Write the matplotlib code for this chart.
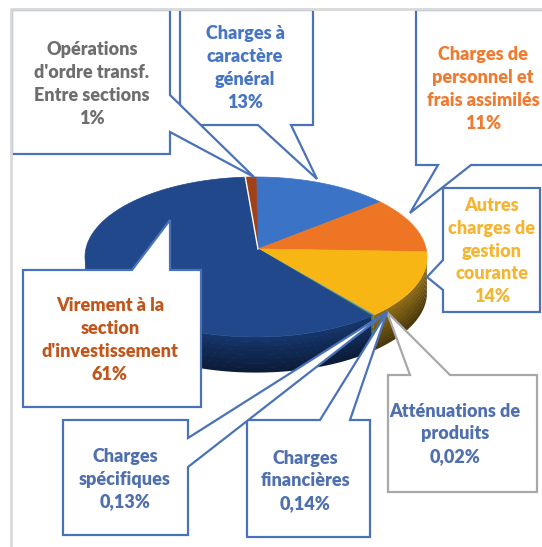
import numpy as np
import matplotlib.pyplot as plt
from matplotlib.patches import Polygon
from matplotlib.colors import to_rgb

# slice data, clockwise from 12 o'clock
labels = ["Charges à\ncaractère\ngénéral",
          "Charges de\npersonnel et\nfrais assimilés",
          "Autres\ncharges de\ngestion\ncourante",
          "Atténuations de\nproduits",
          "Charges\nfinancières",
          "Charges\nspécifiques",
          "Virement à la\nsection\nd'investissement",
          "Opérations\nd'ordre transf.\nEntre sections"]
pct_labels = ["13%", "11%", "14%", "0,02%", "0,14%", "0,13%", "61%", "1%"]
values = [13, 11, 14, 0.02, 0.14, 0.13, 61, 1]

top_colors = ['#3b74c6', '#ee7524', '#f8b614', '#a5a5a5', '#5b9bd5', '#3f7a2c', '#21488b', '#a0411a']
side_colors = ['#2a558f', '#a8521a', '#8c6a16', '#777777', '#3e6e9a', '#2f5e20', '#153469', '#6e2d10']
text_colors = ['#4675c4', '#ee7b30', '#f4b531', '#4f6fae', '#4f6fae', '#4f6fae', '#c0561c', '#6e6e6e']
edge_colors = ['#4a72b8', '#4a72b8', '#4a72b8', '#a8a8a8', '#4a72b8', '#4a72b8', '#4a72b8', '#4a72b8']

# callout layout (pixel space): box, pointer side, pointer base, tip, text centre
boxes = [(180, 10, 313, 125), (416, 10, 548, 165), (443, 188, 540, 312), (388, 375, 537, 492),
         (247, 420, 370, 537), (63, 420, 188, 535), (23, 270, 201, 407), (12, 10, 170, 154)]
sides = ['bottom', 'bottom', 'left', 'top', 'top', 'right', 'top', 'right']
bases = [(258, 291), (438, 471), (260, 290), (410, 450), (320, 350), (438, 467), (132, 170), (95, 132)]
tips = [(317, 179), (410, 213), (427, 277), (387, 312), (387, 312), (387, 312), (170, 220), (254, 177)]
text_pos = [(245, 68), (483, 89), (492, 251), (455, 434), (305, 481), (125, 479), (110, 340), (92, 84)]

plt.rcParams['font.family'] = ['Lato', 'DejaVu Sans']

fig = plt.figure(figsize=(5.42, 5.47), dpi=100)
ax = fig.add_axes([0, 0, 1, 1])
ax.set_xlim(0, 542)
ax.set_ylim(547, 0)
ax.axis('off')

# pie geometry
cx, cy, ra, rb, depth = 256, 257, 171, 80, 35
apex = (258, 249)


def rim(t, dy=0):
    t = np.radians(t)
    return np.column_stack([cx + ra * np.sin(t), cy - rb * np.cos(t) + dy])


cum = np.concatenate([[0], np.cumsum(values)]) / sum(values) * 360

# side walls (only front half visible), darkened towards the bottom
nb = 8
for i in range(len(values)):
    t0, t1 = max(cum[i], 90), min(cum[i + 1], 270)
    if t1 <= t0:
        continue
    t = np.linspace(t0, t1, 80)
    base = np.array(to_rgb(side_colors[i]))
    for k in range(nb):
        d0, d1 = depth * k / nb, depth * (k + 1) / nb + 0.6
        c = base * (1 - 0.45 * k / (nb - 1))
        pts = np.vstack([rim(t, d0), rim(t[::-1], d1)])
        ax.add_patch(Polygon(pts, closed=True, fc=c, ec='none', zorder=1))

# top faces
for i in range(len(values)):
    t = np.linspace(cum[i], cum[i + 1], 120)
    pts = np.vstack([[apex], rim(t)])
    ax.add_patch(Polygon(pts, closed=True, fc=top_colors[i], ec=top_colors[i], lw=0.5, zorder=2))
# thin white gap next to the small red sliver
t = cum[-2]
ax.plot([apex[0], rim([t])[0, 0]], [apex[1], rim([t])[0, 1]], color='white', lw=1, zorder=3)


def callout(box, side, base, tip):
    x0, y0, x1, y1 = box
    b0, b1 = base
    if side == 'bottom':
        return [(x0, y0), (x1, y0), (x1, y1), (b1, y1), tip, (b0, y1), (x0, y1)]
    if side == 'top':
        return [(x0, y0), (b0, y0), tip, (b1, y0), (x1, y0), (x1, y1), (x0, y1)]
    if side == 'right':
        return [(x0, y0), (x1, y0), (x1, b0), tip, (x1, b1), (x1, y1), (x0, y1)]
    return [(x0, y0), (x1, y0), (x1, y1), (x0, y1), (x0, b1), tip, (x0, b0)]


for i in range(len(values)):
    pts = callout(boxes[i], sides[i], bases[i], tips[i])
    ax.add_patch(Polygon(pts, closed=True, fc='white', ec=edge_colors[i], lw=1.6,
                         joinstyle='miter', zorder=5 + i * 0.1))
    ax.text(text_pos[i][0], text_pos[i][1], labels[i] + '\n' + pct_labels[i],
            ha='center', va='center', multialignment='center', color=text_colors[i],
            fontsize=13, fontweight='heavy', linespacing=1.42, zorder=7)

# outer frame
ax.plot([11, 11, 542], [547, 9, 9], color='#d9d9d9', lw=2, zorder=8)

fig.savefig('out.png', dpi=100)
